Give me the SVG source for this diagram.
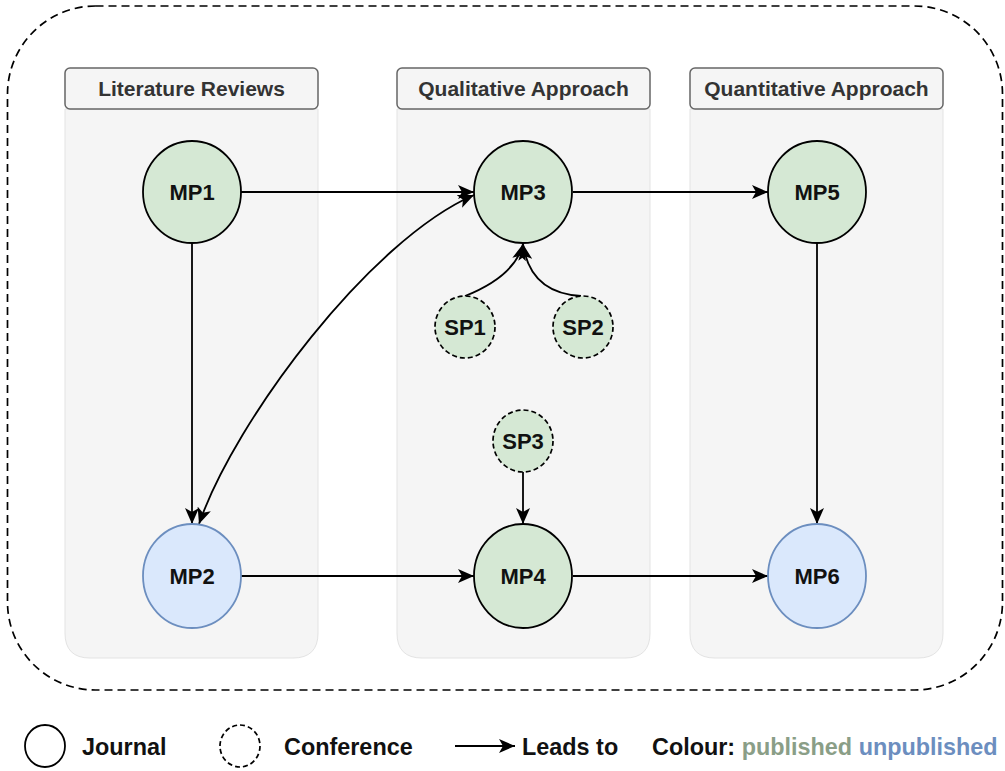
<svg xmlns="http://www.w3.org/2000/svg" width="1005" height="771" viewBox="0 0 1005 771">
  <style>
    text { font-family: "Liberation Sans", Arial, sans-serif; font-weight: bold; }
    .lane { fill: #f5f5f5; stroke: #e3e3e3; stroke-width: 1; }
    .head { fill: #f5f5f5; stroke: #666666; stroke-width: 1.5; }
    .headtxt { font-size: 21px; fill: #333333; text-anchor: middle; }
    .pub { fill: #d5e8d4; stroke: #000000; stroke-width: 1.8; }
    .unpub { fill: #dae8fc; stroke: #6c8ebf; stroke-width: 1.8; }
    .conf { fill: #d5e8d4; stroke: #000000; stroke-width: 1.7; stroke-dasharray: 5 3; }
    .lbl { font-size: 22px; fill: #111111; text-anchor: middle; }
    .edge { fill: none; stroke: #000000; stroke-width: 1.8; }
    .legend { font-size: 23.4px; fill: #111111; }
  </style>
  <defs>
    <marker id="arrow" viewBox="0 0 16 14" refX="16" refY="7" markerWidth="16" markerHeight="14" markerUnits="userSpaceOnUse" orient="auto-start-reverse">
      <path d="M0,0 L16,7 L0,14 L4,7 Z" fill="#000000"/>
    </marker>
  </defs>

  <rect width="1005" height="771" fill="#ffffff"/>

  <!-- outer dashed boundary -->
  <rect id="boundary" x="7.5" y="6" width="995" height="684" rx="88" ry="88" fill="none" stroke="#000000" stroke-width="1.7" stroke-dasharray="8 5"/>

  <!-- swimlanes -->
  <g id="lane-literature">
    <path class="lane" d="M65,109 H318 V633 Q318,658 293,658 H90 Q65,658 65,633 Z"/>
    <rect class="head" x="65" y="68" width="253" height="41" rx="5" ry="5"/>
    <text class="headtxt" x="191.5" y="96">Literature Reviews</text>
  </g>
  <g id="lane-qualitative">
    <path class="lane" d="M397,109 H650 V633 Q650,658 625,658 H422 Q397,658 397,633 Z"/>
    <rect class="head" x="397" y="68" width="253" height="41" rx="5" ry="5"/>
    <text class="headtxt" x="523.5" y="96">Qualitative Approach</text>
  </g>
  <g id="lane-quantitative">
    <path class="lane" d="M690,109 H943 V633 Q943,658 918,658 H715 Q690,658 690,633 Z"/>
    <rect class="head" x="690" y="68" width="253" height="41" rx="5" ry="5"/>
    <text class="headtxt" x="816.5" y="96">Quantitative Approach</text>
  </g>

  <!-- connectors -->
  <g id="connectors">
    <path class="edge" d="M241,192 L474,192" marker-end="url(#arrow)"/>
    <path class="edge" d="M573,192 L768,192" marker-end="url(#arrow)"/>
    <path class="edge" d="M192,244 L192,524" marker-end="url(#arrow)"/>
    <path class="edge" d="M817,244 L817,524" marker-end="url(#arrow)"/>
    <path class="edge" d="M241,576 L474,576" marker-end="url(#arrow)"/>
    <path class="edge" d="M573,576 L768,576" marker-end="url(#arrow)"/>
    <path class="edge" d="M523,472 L523,524" marker-end="url(#arrow)"/>
    <path class="edge" d="M465,296 Q515,276 523,244" marker-end="url(#arrow)"/>
    <path class="edge" d="M581,296 Q530,293 523,244" marker-end="url(#arrow)"/>
    <path class="edge" d="M199,524 C235,420 370,240 474,195" marker-start="url(#arrow)" marker-end="url(#arrow)"/>
  </g>

  <!-- main papers -->
  <g id="MP1">
    <ellipse class="pub" cx="192" cy="192" rx="49" ry="51"/>
    <text class="lbl" x="192" y="200">MP1</text>
  </g>
  <g id="MP2">
    <ellipse class="unpub" cx="192" cy="576" rx="49" ry="52"/>
    <text class="lbl" x="192" y="584">MP2</text>
  </g>
  <g id="MP3">
    <ellipse class="pub" cx="523" cy="192" rx="49" ry="51"/>
    <text class="lbl" x="523" y="200">MP3</text>
  </g>
  <g id="MP4">
    <ellipse class="pub" cx="523" cy="576" rx="49" ry="52"/>
    <text class="lbl" x="523" y="584">MP4</text>
  </g>
  <g id="MP5">
    <ellipse class="pub" cx="817" cy="192" rx="49" ry="51"/>
    <text class="lbl" x="817" y="200">MP5</text>
  </g>
  <g id="MP6">
    <ellipse class="unpub" cx="817" cy="576" rx="49" ry="52"/>
    <text class="lbl" x="817" y="584">MP6</text>
  </g>

  <!-- supporting papers -->
  <g id="SP1">
    <ellipse class="conf" cx="465" cy="327" rx="30" ry="31"/>
    <text class="lbl" x="465" y="335">SP1</text>
  </g>
  <g id="SP2">
    <ellipse class="conf" cx="583" cy="327" rx="30" ry="31"/>
    <text class="lbl" x="583" y="335">SP2</text>
  </g>
  <g id="SP3">
    <ellipse class="conf" cx="523" cy="441" rx="30" ry="31"/>
    <text class="lbl" x="523" y="449">SP3</text>
  </g>

  <!-- legend -->
  <g id="legend">
    <ellipse cx="45" cy="746" rx="20" ry="21" fill="none" stroke="#000000" stroke-width="1.8"/>
    <text class="legend" x="82" y="755">Journal</text>
    <ellipse cx="240" cy="746" rx="20" ry="21" fill="none" stroke="#000000" stroke-width="1.7" stroke-dasharray="5 3"/>
    <text class="legend" x="284" y="755">Conference</text>
    <path class="edge" d="M455,746 L515,746" marker-end="url(#arrow)"/>
    <text class="legend" x="522" y="755">Leads to</text>
    <text class="legend" x="652" y="755">Colour: <tspan fill="#8a9e87">published</tspan> <tspan fill="#6c8ebf">unpublished</tspan></text>
  </g>
</svg>
